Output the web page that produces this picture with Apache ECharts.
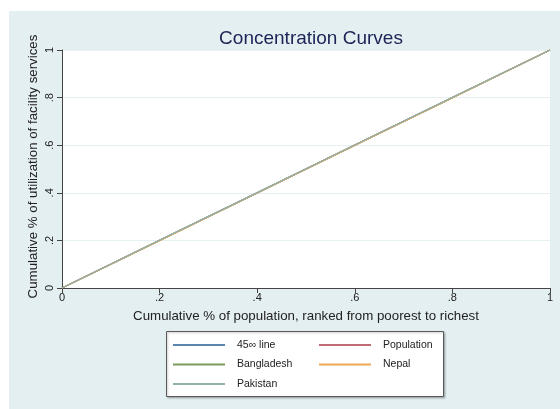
<!DOCTYPE html>
<html>
<head>
<meta charset="utf-8">
<script src="https://cdn.jsdelivr.net/npm/echarts@6/dist/echarts.min.js"></script>
<style>html,body{margin:0;padding:0;background:#fff;}#c{width:560px;height:409px;}</style>
</head>
<body>
<div id="c"></div>
<script>
var xTicks = [0, 0.2, 0.4, 0.6, 0.8, 1];
var tickLabels = ['0', '.2', '.4', '.6', '.8', '1'];
var popShare = [0, 0.2, 0.4, 0.6, 0.8, 1];
var line45 = [0, 0.2, 0.4, 0.6, 0.8, 1];
var population = [0, 0.2, 0.4, 0.6, 0.8, 1];
var bangladesh = [0, 0.2, 0.4, 0.6, 0.8, 1];
var nepal = [0, 0.199, 0.399, 0.599, 0.799, 1];
var pakistan = [0, 0.201, 0.401, 0.601, 0.801, 1];
var seriesNames = ['45\u221E line', 'Population', 'Bangladesh', 'Nepal', 'Pakistan'];
var seriesColors = ['#5a86ae', '#c06a76', '#7b9a5a', '#eeaa50', '#93b0aa'];

function pairs(ys) { return popShare.map(function (x, i) { return [x, ys[i]]; }); }
var allData = [line45, population, bangladesh, nepal, pakistan];

var FONT = '"Liberation Sans", Arial, Helvetica, sans-serif';
var chart = echarts.init(document.getElementById('c'), null, {renderer: 'canvas'});
var fmt = function (v) { var i = xTicks.indexOf(Math.round(v * 10) / 10); return i >= 0 ? tickLabels[i] : ''; };

chart.setOption({
  backgroundColor: '#fff',
  animation: false,
  graphic: [
    {type: 'rect', z: -10, silent: true, shape: {x: 9, y: 11, width: 551, height: 398}, style: {fill: '#e4eff2'}},
    {type: 'rect', z: 5, silent: true, shape: {x: 166.5, y: 331.5, width: 277, height: 65}, style: {fill: '#fff', stroke: '#5a5a5a', lineWidth: 1, shadowColor: 'rgba(0,0,0,0.25)', shadowBlur: 2, shadowOffsetX: 1, shadowOffsetY: 1}}
  ],
  title: {
    text: 'Concentration Curves',
    left: 306, top: 24, textAlign: 'center',
    textStyle: {fontFamily: FONT, fontSize: 19, fontWeight: 'normal', color: '#1c2355'}
  },
  grid: {left: 62, right: 10, top: 50, bottom: 121, show: true, backgroundColor: '#fff', borderWidth: 0},
  xAxis: {
    type: 'value', min: 0, max: 1, interval: 0.2,
    name: 'Cumulative % of population, ranked from poorest to richest',
    nameLocation: 'middle', nameGap: 22, nameMoveOverlap: false,
    nameTextStyle: {fontFamily: FONT, fontSize: 13.3, color: '#222'},
    axisLine: {show: true, onZero: false, lineStyle: {color: '#444', width: 1}},
    axisTick: {show: true, length: 5, lineStyle: {color: '#444'}},
    axisLabel: {fontFamily: FONT, fontSize: 11, color: '#222', margin: 4, formatter: fmt},
    splitLine: {show: false}
  },
  yAxis: {
    type: 'value', min: 0, max: 1, interval: 0.2,
    name: 'Cumulative % of utilization of facility services',
    nameLocation: 'middle', nameGap: 22, nameMoveOverlap: false,
    nameTextStyle: {fontFamily: FONT, fontSize: 13.3, color: '#222', padding: [0, 0, 0, 5]},
    axisLine: {show: true, onZero: false, lineStyle: {color: '#444', width: 1}},
    axisTick: {show: true, length: 5, lineStyle: {color: '#444'}},
    axisLabel: {fontFamily: FONT, fontSize: 11, color: '#222', rotate: 90, margin: 7, formatter: fmt},
    splitLine: {show: true, lineStyle: {color: '#e6eff2', width: 1}}
  },
  legend: [
    {
      data: [seriesNames[0], seriesNames[2], seriesNames[4]],
      orient: 'vertical', left: 173, top: 338, z: 10,
      icon: 'rect', itemWidth: 52, itemHeight: 2, itemGap: 5.5,
      textStyle: {fontFamily: FONT, fontSize: 10.5, color: '#222', lineHeight: 14, padding: [0, 0, 0, 7]},
      padding: 0
    },
    {
      data: [seriesNames[1], seriesNames[3]],
      orient: 'vertical', left: 319, top: 338, z: 10,
      icon: 'rect', itemWidth: 52, itemHeight: 2, itemGap: 5.5,
      textStyle: {fontFamily: FONT, fontSize: 10.5, color: '#222', lineHeight: 14, padding: [0, 0, 0, 7]},
      padding: 0
    }
  ],
  series: seriesNames.map(function (n, i) {
    return {
      name: n, type: 'line', data: pairs(allData[i]),
      showSymbol: false, symbol: 'none',
      lineStyle: {color: seriesColors[i], width: 1.3},
      itemStyle: {color: seriesColors[i]}
    };
  })
});
</script>
</body>
</html>
